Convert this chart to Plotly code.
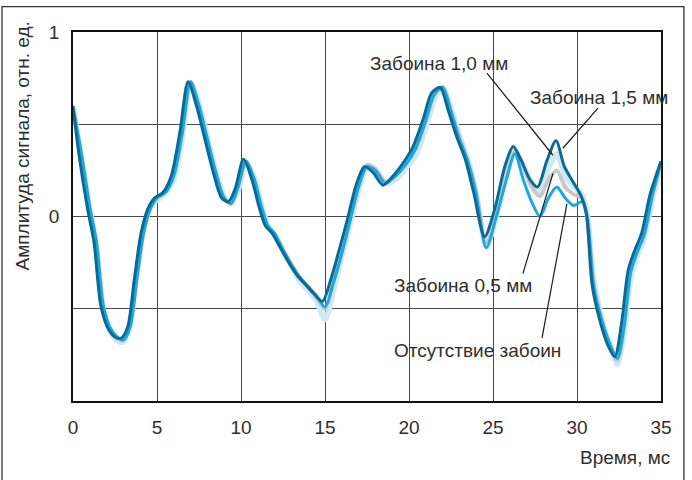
import plotly.graph_objects as go

# time knots, ms (shared by the three lighter curves)
t = [0, 0.5, 1.0, 1.4, 1.8, 2.2, 2.6, 3.0, 3.4, 3.8, 4.2, 4.6, 5.0, 5.5, 6.0, 6.5,
     7.0, 7.5, 8.0, 8.5, 9.0, 9.4, 9.8, 10.3, 10.8, 11.2, 11.6, 12.0, 12.5, 13.0,
     13.5, 14.0, 14.5, 15.0, 15.5, 16.0, 16.5, 17.0, 17.5, 18.0, 18.6, 19.2, 19.8,
     20.4, 21.0, 21.5, 22.0, 22.5, 23.0, 23.5, 24.0, 24.6, 25.2, 25.8, 26.3, 26.8,
     27.3, 27.8, 28.3, 28.8, 29.3, 29.8, 30.3, 30.6, 31.0, 31.5, 32.0, 32.4, 32.8,
     33.2, 33.6, 34.0, 34.5, 35.0]

# time knots of the 1,5 mm curve (it runs slightly ahead of the others)
t_15 = [0, 0.35, 0.85, 1.25, 1.65, 2.05, 2.45, 2.85, 3.25, 3.65, 4.05, 4.45, 4.85,
        5.35, 5.85, 6.35, 6.85, 7.35, 7.85, 8.35, 8.85, 9.25, 9.65, 10.15, 10.65,
        11.05, 11.45, 11.85, 12.35, 12.85, 13.35, 13.85, 14.35, 14.85, 15.35, 15.85,
        16.35, 16.85, 17.35, 17.85, 18.45, 19.05, 19.65, 20.25, 20.85, 21.35, 21.85,
        22.35, 22.85, 23.35, 23.85, 24.5, 25.1, 25.7, 26.2, 26.7, 27.2, 27.65, 28.2,
        28.75, 29.25, 29.75, 30.25, 30.55, 30.9, 31.35, 31.85, 32.25, 32.65, 33.05,
        33.45, 33.85, 34.35, 35.0]

# Отсутствие забоин
no_defect = [0.59, 0.34, 0.05, -0.14, -0.48, -0.60, -0.65, -0.67, -0.60, -0.34,
             -0.09, 0.04, 0.10, 0.13, 0.22, 0.45, 0.73, 0.60, 0.42, 0.24, 0.10,
             0.07, 0.15, 0.30, 0.20, 0.06, -0.05, -0.09, -0.18, -0.26, -0.33,
             -0.38, -0.43, -0.49, -0.36, -0.20, -0.02, 0.16, 0.27, 0.25, 0.18,
             0.22, 0.28, 0.37, 0.52, 0.66, 0.70, 0.57, 0.42, 0.30, 0.12, -0.17,
             0.00, 0.20, 0.34, 0.20, 0.08, 0.00, 0.10, 0.16, 0.10, 0.06, 0.08,
             0.00, -0.38, -0.57, -0.70, -0.77, -0.60, -0.30, -0.19, -0.10, 0.12,
             0.29]

# Забоина 0,5 мм
defect_05 = [0.59, 0.33, 0.04, -0.16, -0.50, -0.61, -0.66, -0.67, -0.58, -0.32,
             -0.08, 0.05, 0.10, 0.14, 0.23, 0.46, 0.73, 0.59, 0.41, 0.23, 0.10,
             0.07, 0.16, 0.30, 0.19, 0.05, -0.06, -0.10, -0.18, -0.26, -0.33,
             -0.38, -0.44, -0.50, -0.35, -0.19, -0.01, 0.17, 0.28, 0.26, 0.19,
             0.22, 0.29, 0.37, 0.52, 0.66, 0.70, 0.57, 0.43, 0.30, 0.13, -0.14,
             0.02, 0.24, 0.36, 0.27, 0.16, 0.11, 0.20, 0.25, 0.16, 0.12, 0.10,
             0.00, -0.37, -0.57, -0.71, -0.78, -0.59, -0.29, -0.18, -0.09, 0.12,
             0.29]

# Забоина 1,0 мм
defect_10 = [0.59, 0.33, 0.04, -0.16, -0.50, -0.62, -0.67, -0.68, -0.58, -0.31,
             -0.07, 0.05, 0.09, 0.13, 0.20, 0.42, 0.72, 0.61, 0.43, 0.25, 0.11,
             0.07, 0.13, 0.29, 0.21, 0.07, -0.05, -0.10, -0.19, -0.27, -0.35,
             -0.40, -0.46, -0.56, -0.40, -0.22, -0.04, 0.14, 0.26, 0.25, 0.18,
             0.20, 0.26, 0.33, 0.48, 0.63, 0.70, 0.59, 0.44, 0.31, 0.13, -0.16,
             0.00, 0.24, 0.35, 0.28, 0.18, 0.13, 0.26, 0.34, 0.22, 0.16, 0.12,
             0.02, -0.34, -0.56, -0.71, -0.80, -0.64, -0.33, -0.21, -0.12, 0.10,
             0.27]

# Забоина 1,5 мм
defect_15 = [0.60, 0.34, 0.05, -0.14, -0.48, -0.60, -0.65, -0.66, -0.60, -0.34,
             -0.09, 0.04, 0.10, 0.13, 0.22, 0.45, 0.73, 0.60, 0.42, 0.24, 0.10,
             0.08, 0.15, 0.31, 0.20, 0.06, -0.05, -0.09, -0.17, -0.25, -0.32,
             -0.37, -0.42, -0.46, -0.34, -0.18, -0.01, 0.17, 0.27, 0.24, 0.17,
             0.22, 0.29, 0.38, 0.53, 0.67, 0.70, 0.57, 0.43, 0.31, 0.13, -0.11,
             0.04, 0.27, 0.38, 0.30, 0.20, 0.16, 0.30, 0.41, 0.27, 0.19, 0.11,
             0.02, -0.37, -0.56, -0.70, -0.76, -0.58, -0.29, -0.18, -0.09, 0.12,
             0.30]

x_ticks = [0, 5, 10, 15, 20, 25, 30, 35]
y_tickvals = [-1, -0.5, 0, 0.5, 1]
y_ticktext = ["", "", "0", "", "1"]

FONT = "Liberation Sans"
TXT = "#2e2e2e"

fig = go.Figure()
series = [
    (t, defect_10, "Забоина 1,0 мм", "#cde9f7", 5.5),
    (t, defect_05, "Забоина 0,5 мм", "#c9c9c9", 4),
    (t, no_defect, "Отсутствие забоин", "#1aa8e2", 3),
    (t_15, defect_15, "Забоина 1,5 мм", "#0c6a92", 3),
]
for xs, vals, name, color, w in series:
    fig.add_trace(go.Scatter(x=xs, y=vals, mode="lines", name=name, hoverinfo="skip",
                             line=dict(color=color, width=w, shape="spline", smoothing=0.8)))

# callouts: (text, text x, text y, line x0, y0, x1, y1)
callouts = [
    ("Забоина 1,0 мм", 17.54, 0.83, 24.64, 0.777, 28.57, 0.332),
    ("Забоина 1,5 мм", 27.08, 0.645, 31.25, 0.587, 29.16, 0.37),
    ("Забоина 0,5 мм", 18.98, -0.375, 26.78, -0.31, 28.57, 0.234),
    ("Отсутствие забоин", 18.98, -0.725, 27.92, -0.658, 29.4, 0.07),
]
for text, tx, ty, x0, y0, x1, y1 in callouts:
    fig.add_shape(type="line", xref="x", yref="y", x0=x0, y0=y0, x1=x1, y1=y1,
                  line=dict(color="#1a1a1a", width=1.2))
    fig.add_annotation(x=tx, y=ty, xref="x", yref="y", text=text, showarrow=False,
                       xanchor="left", yanchor="middle",
                       font=dict(family=FONT, size=19, color=TXT))

# outer frame
fig.add_shape(type="rect", xref="paper", yref="paper", x0=-0.1207, x1=1.039,
              y0=-0.25, y1=1.069, line=dict(color="#333333", width=1.3), layer="below")

fig.add_annotation(x=1.0187, y=-0.154, xref="paper", yref="paper", text="Время, мс",
                   showarrow=False, xanchor="right", yanchor="middle",
                   font=dict(family=FONT, size=19, color=TXT))
fig.add_annotation(x=-0.0867, y=0.69, xref="paper", yref="paper",
                   text="Амплитуда сигнала, отн. ед.", textangle=-90, showarrow=False,
                   xanchor="center", yanchor="middle",
                   font=dict(family=FONT, size=19, color=TXT))

fig.update_layout(
    width=692, height=480,
    margin=dict(l=73, r=31, t=32, b=79),
    paper_bgcolor="white", plot_bgcolor="white",
    showlegend=False, hovermode=False,
    font=dict(family=FONT, size=19, color=TXT),
)
fig.update_xaxes(range=[0, 35], tickvals=x_ticks, showgrid=True, gridcolor="#4a4a4a",
                 gridwidth=1, showline=True, linecolor="#111111", linewidth=1.5,
                 mirror=True, zeroline=False, ticks="", ticklabelstandoff=8)
fig.update_yaxes(range=[-1, 1], tickvals=y_tickvals, ticktext=y_ticktext, showgrid=True,
                 gridcolor="#4a4a4a", gridwidth=1, showline=True, linecolor="#111111",
                 linewidth=1.5, mirror=True, zeroline=False, ticks="", ticklabelstandoff=8)

fig.write_html("out.html", config={"displayModeBar": False})

# remove the browser's default page margin so the figure sits at the window origin
with open("out.html", encoding="utf-8") as f:
    html = f.read()
html = html.replace("<head>", "<head><style>html,body{margin:0;padding:0;}</style>", 1)
with open("out.html", "w", encoding="utf-8") as f:
    f.write(html)
